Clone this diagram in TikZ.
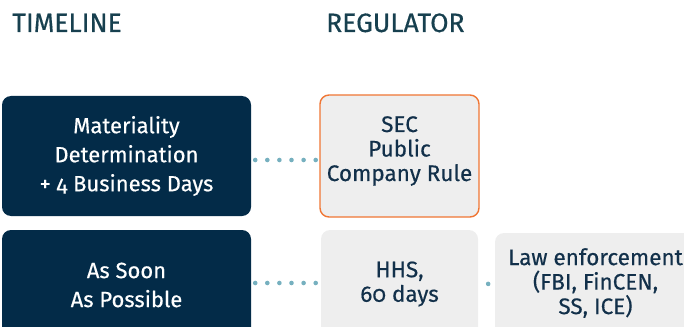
\documentclass[tikz,border=0pt]{standalone}
\usepackage{fontspec}
\setmainfont{Fira Sans}[Numbers=OldStyle,FakeBold=0.4]
\definecolor{navy}{HTML}{032B48}
\definecolor{headteal}{HTML}{17404F}
\definecolor{regtext}{HTML}{12304A}
\definecolor{panelgrey}{HTML}{EEEEEE}
\definecolor{accent}{HTML}{F07634}
\definecolor{dotblue}{HTML}{76B0BF}
\begin{document}
\begin{tikzpicture}[x=1pt,y=-1pt,
  heading/.style={anchor=base west,text=headteal,font=\fontsize{26.5}{30}\selectfont,inner sep=0pt},
  timebox/.style={draw=none,fill=navy,rounded corners=9pt,text=white,align=center,
    font=\fontsize{22}{29}\selectfont,inner sep=0pt},
  regbox/.style={fill=panelgrey,rounded corners=9pt,inner sep=0pt},
  regsec/.style={regbox,draw=accent,line width=1.4pt},
  regtxt/.style={text=regtext,align=center,font=\fontsize{22.5}{24.5}\selectfont,inner sep=0pt},
  dotlink/.style={dotblue,line width=4.6pt,line cap=round,dash pattern=on 0pt off 12.1pt}
]
\useasboundingbox (0,0) rectangle (684,326);

% column headings
\node[heading] (hTime) at (12,32) {TIMELINE};
\node[heading] (hReg) at (326,32) {REGULATOR};

% timeline boxes
\node[timebox,minimum width=249pt,minimum height=120pt] (t1) at (126.5,156)
  {Materiality\\Determination\\+ 4 Business Days};
\node[timebox,minimum width=249pt,minimum height=110pt] (t2) at (126.5,285)
  {As Soon\\As Possible};

% regulator boxes
\node[regsec,minimum width=159pt,minimum height=122pt] (sec) at (399.5,156) {};
\node[regtxt] (secT) at ([yshift=5pt]sec.center) {SEC\\Public\\Company Rule};
\node[regbox,minimum width=157pt,minimum height=110pt] (hhs) at (399.5,285) {};
\node[regtxt] (hhsT) at ([yshift=1pt]hhs.center) {HHS,\\60 days};
\node[regbox,minimum width=201pt,minimum height=107pt] (law) at (595.5,286.5) {};
\node[regtxt] (lawT) at (595.5,283) {Law enforcement\\(FBI, FinCEN,\\SS, ICE)};

% dotted links
\draw[dotlink,shorten <=4pt,shorten >=2.5pt] ([yshift=-4pt]t1.east) -- ([yshift=-4pt]sec.west);
\draw[dotlink,shorten <=4pt,shorten >=3.5pt] ([yshift=2pt]t2.east) -- ([yshift=2pt]hhs.west);
\draw[dotlink,dash pattern=on 0pt off 20pt,shorten <=10pt,shorten >=2pt]
  ([yshift=2pt]hhs.east) -- ([yshift=2pt]law.west);
\end{tikzpicture}
\end{document}
